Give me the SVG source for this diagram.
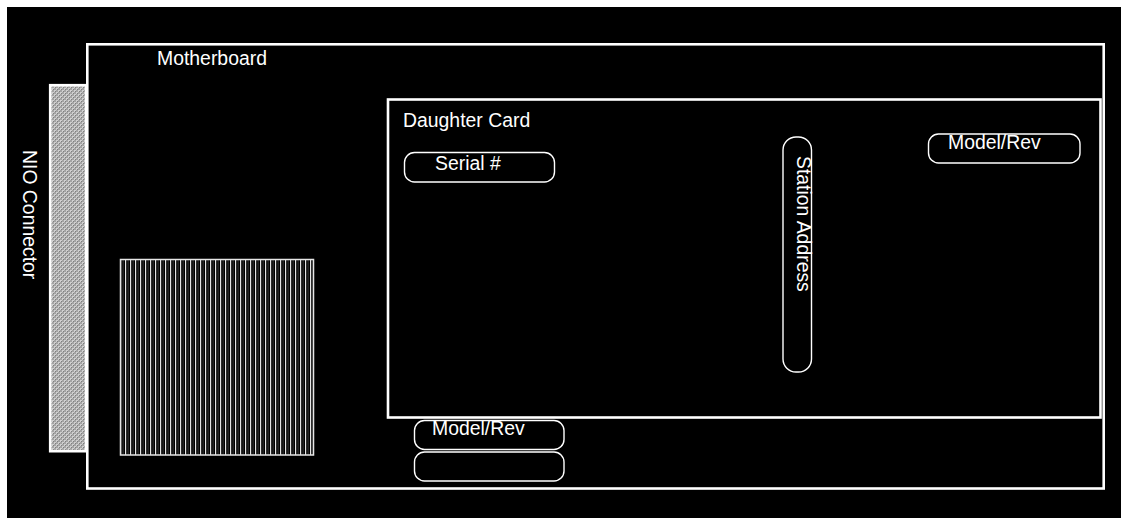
<svg xmlns="http://www.w3.org/2000/svg" width="1121" height="518" viewBox="0 0 1121 518">
  <style>
    .board { fill: none; stroke: #ffffff; stroke-width: 2.6; }
    .pill { fill: none; stroke: #ffffff; stroke-width: 1.4; }
    .lbl { font-family: "Liberation Sans", Arial, sans-serif; font-size: 19.4px; fill: #ffffff; }
  </style>
  <defs>
    <pattern id="checker" x="0" y="0" width="4" height="4" patternUnits="userSpaceOnUse">
      <rect width="4" height="4" fill="#a4a4a4"/>
      <rect x="0" y="0" width="2" height="2" fill="#d0d0d0"/>
      <rect x="2" y="2" width="2" height="2" fill="#d0d0d0"/>
      <rect x="1" y="1" width="1" height="1" fill="#808080"/>
      <rect x="3" y="3" width="1" height="1" fill="#808080"/>
    </pattern>
    <pattern id="fins" x="120" y="0" width="5" height="10" patternUnits="userSpaceOnUse">
      <rect width="5" height="10" fill="#000000"/>
      <rect x="0" y="0" width="1.2" height="10" fill="#e6e6e6"/>
      <rect x="2.6" y="0" width="1" height="10" fill="#3a3a3a"/>
    </pattern>
  </defs>
  <rect x="0" y="0" width="1121" height="518" fill="#ffffff"/>
  <rect x="7" y="7" width="1114" height="511" fill="#000000"/>

  <g id="nio-connector">
    <rect x="50.2" y="85.2" width="36" height="366" fill="url(#checker)" stroke="#ffffff" stroke-width="2.6"/>
    <text class="lbl" transform="translate(22.5,150) rotate(90)">NIO Connector</text>
  </g>

  <g id="motherboard">
    <rect class="board" x="87.3" y="44.3" width="1016.4" height="444.2"/>
    <text class="lbl" x="157" y="65">Motherboard</text>
  </g>

  <g id="heatsink">
    <rect x="120.5" y="259.5" width="193" height="195.5" fill="url(#fins)" stroke="#e6e6e6" stroke-width="1.5"/>
  </g>

  <g id="daughter-card">
    <rect class="board" x="388" y="99.5" width="712.5" height="318"/>
    <text class="lbl" x="403" y="127">Daughter Card</text>
  </g>

  <g id="serial">
    <rect class="pill" x="404.5" y="152.5" width="150" height="29.5" rx="10" ry="10"/>
    <text class="lbl" x="435" y="170">Serial #</text>
  </g>

  <g id="station-address">
    <rect class="pill" x="783" y="137" width="28.5" height="235" rx="13" ry="13"/>
    <text class="lbl" transform="translate(797,156) rotate(90)">Station Address</text>
  </g>

  <g id="model-rev-daughter">
    <rect class="pill" x="928.5" y="134" width="151.5" height="29" rx="10" ry="10"/>
    <text class="lbl" x="948" y="149">Model/Rev</text>
  </g>

  <g id="model-rev-mother">
    <rect class="pill" x="414.5" y="420.5" width="149.5" height="29" rx="10" ry="10"/>
    <text class="lbl" x="432" y="435">Model/Rev</text>
  </g>

  <g id="blank-box">
    <rect class="pill" x="414.5" y="452" width="149.5" height="29" rx="10" ry="10"/>
  </g>

  <g id="connectors"></g>
</svg>
